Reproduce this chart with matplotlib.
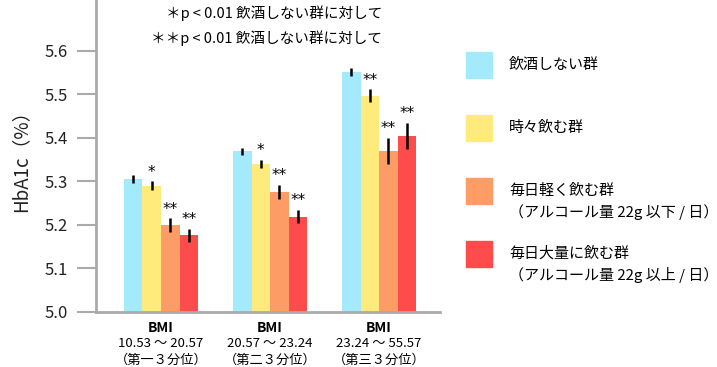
import matplotlib.pyplot as plt
import numpy as np
from matplotlib.patches import Rectangle

plt.rcParams['font.family'] = ['Noto Sans CJK JP', 'DejaVu Sans']

# ----------------------- data ------------------------------- #
groups = ["BMI\n10.53 ～ 20.57\n（第一３分位）",
          "BMI\n20.57 ～ 23.24\n（第二３分位）",
          "BMI\n23.24 ～ 55.57\n（第三３分位）"]
series = ["飲酒しない群", "時々飲む群",
          "毎日軽く飲む群\n（アルコール量 22g 以下 / 日）",
          "毎日大量に飲む群\n（アルコール量 22g 以上 / 日）"]
colors = ["#a3ebfc", "#feeb7c", "#fe9c66", "#fe4b4b"]

hba1c = [[5.306, 5.290, 5.200, 5.176],
         [5.370, 5.340, 5.276, 5.219],
         [5.552, 5.497, 5.370, 5.405]]
err = [[0.010, 0.010, 0.015, 0.015],
       [0.008, 0.010, 0.016, 0.015],
       [0.010, 0.015, 0.030, 0.030]]
stars = [["", "*", "**", "**"],
         ["", "*", "**", "**"],
         ["", "**", "**", "**"]]

yticks = [5.0, 5.1, 5.2, 5.3, 5.4, 5.5, 5.6]

# ----------------------- plot ------------------------------- #
fig = plt.figure(figsize=(7.17, 3.67), dpi=100)
ax = fig.add_axes([0.1339, 0.1499, 0.48, 0.8501])

vals = np.array(hba1c)
errs = np.array(err)
x = np.arange(len(groups))
w = 0.17
for j in range(len(series)):
    xs = x + (j - 1.5) * w
    ax.bar(xs, vals[:, j], width=w, color=colors[j], bottom=0, zorder=2)
    ax.errorbar(xs, vals[:, j], yerr=errs[:, j], fmt='none', ecolor='black',
                elinewidth=1.8, capsize=0, zorder=3)
    for i in range(len(groups)):
        if stars[i][j]:
            ax.text(xs[i], vals[i, j] + errs[i, j] + 0.004, stars[i][j],
                    ha='center', va='bottom', fontsize=11, family='DejaVu Sans')

ax.set_ylim(5.0, 5.0 + 312 / 435)
ax.set_xlim(-0.596, 2.56)
ax.set_yticks(yticks)
ax.set_yticklabels([f"{t:.1f}" for t in yticks], fontsize=12, color='#222222')
ax.set_xticks(x)
ax.set_xticklabels([])
ax.tick_params(axis='y', length=14, width=1.5, color='#aaaaaa', pad=6)
ax.tick_params(axis='x', length=0)
for s in ['top', 'right']:
    ax.spines[s].set_visible(False)
for s in ['left', 'bottom']:
    ax.spines[s].set_color('#aaaaaa')
    ax.spines[s].set_linewidth(2)

for i, g in enumerate(groups):
    first, rest = g.split("\n", 1)
    ax.text(x[i], 5.0 - 0.020, first, ha='center', va='top', fontsize=10,
            fontweight='bold', clip_on=False)
    ax.text(x[i], 5.0 - 0.057, rest, ha='center', va='top', fontsize=9.5,
            linespacing=1.35, clip_on=False)

ax.set_ylabel("HbA1c（%）", fontsize=13.5, labelpad=10, color='#222222')

fig.text(382 / 717, 1 - 13 / 367, "＊p < 0.01 飲酒しない群に対して",
         ha='right', va='center', fontsize=10.5)
fig.text(382 / 717, 1 - 38 / 367, "＊＊p < 0.01 飲酒しない群に対して",
         ha='right', va='center', fontsize=10.5)

# legend drawn by hand
for j, (lab, c) in enumerate(zip(series, colors)):
    top = 52 + j * 63
    fig.add_artist(Rectangle((466 / 717, 1 - (top + 26) / 367), 26 / 717, 26 / 367,
                             transform=fig.transFigure, color=c))
    fig.text(509 / 717, 1 - (top + 13) / 367, lab.split("\n")[0],
             ha='left', va='center', fontsize=10.8)
    if "\n" in lab:
        fig.text(509 / 717, 1 - (top + 34) / 367, lab.split("\n")[1],
                 ha='left', va='center', fontsize=10.8)

fig.savefig("out.png", dpi=100)
